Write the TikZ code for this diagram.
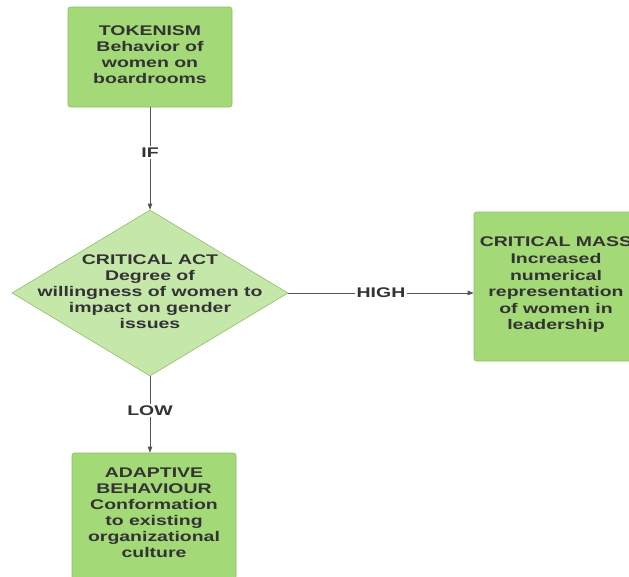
\documentclass[tikz,border=0pt]{standalone}
\usepackage{fontspec}
\setmainfont{Liberation Sans}[FakeStretch=1.39]
\usetikzlibrary{shapes.geometric,arrows.meta}
\definecolor{boxgreen}{HTML}{A3D977}
\definecolor{boxedge}{HTML}{8DBE66}
\definecolor{diagreen}{HTML}{C6E7AA}
\definecolor{ink}{HTML}{333333}
\definecolor{wire}{HTML}{555555}
\begin{document}
\begin{tikzpicture}[x=1pt,y=-1pt,
  every node/.style={font=\bfseries\fontsize{14}{16}\selectfont, text=ink},
  stepbox/.style={draw=boxedge, line width=0.6pt, fill=boxgreen, rounded corners=2.5pt,
    minimum width=164pt, inner sep=0pt},
  decision/.style={diamond, draw=boxedge, line width=0.6pt, fill=diagreen, inner sep=0pt,
    minimum width=276pt, minimum height=166pt},
  body/.style={align=center, inner sep=0pt},
  wirearrow/.style={draw=wire, line width=0.7pt, -{Triangle[length=6pt,width=4.5pt]}},
  tag/.style={fill=white, inner sep=1.5pt}
]
\clip (0,0) rectangle (629,576);

% boxes
\node[stepbox, minimum height=100pt] (token) at (150,57) {};
\node[body] at (150,55) {TOKENISM\\Behavior of\\women on\\boardrooms};

\node[decision] (act) at (150,293) {};
\node[body] at (150,292) {CRITICAL ACT\\Degree of\\willingness of women to\\impact on gender\\issues};

\node[stepbox, minimum height=149pt] (mass) at (556,286.5) {};
\node[body, font=\bfseries\fontsize{14}{16.6}\selectfont] at (556,285) {CRITICAL MASS\\Increased\\numerical\\representation\\of women in\\leadership};

\node[stepbox, minimum height=126pt] (adapt) at (154,516) {};
\node[body] at (154,513) {ADAPTIVE\\BEHAVIOUR\\Conformation\\to existing\\organizational\\culture};

% connectors
\draw[wirearrow] (token.south) -- node[tag, pos=0.44] (iftag) {IF} (act.north);
\draw[wirearrow] (act.east) -- node[tag, pos=0.5] (hightag) {HIGH} (act.east -| mass.west);
\draw[wirearrow] (act.south) -- node[tag, pos=0.45] (lowtag) {LOW} (act.south |- adapt.north);
\end{tikzpicture}
\end{document}
